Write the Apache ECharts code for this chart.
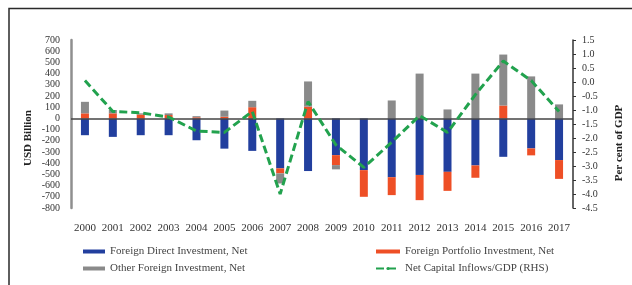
<!DOCTYPE html>
<html>
<head>
<meta charset="utf-8">
<script src="https://cdn.jsdelivr.net/npm/echarts@6/dist/echarts.min.js"></script>
<style>
	html, body { margin: 0; padding: 0; background: #fff; }
	#chart { width: 632px; height: 285px; }
</style>
</head>
<body>
<div id="chart"></div>
<script>
// capital flows, USD bn (bars) and net inflows as % of GDP (line)
var years = ['2000', '2001', '2002', '2003', '2004', '2005', '2006', '2007', '2008',
	'2009', '2010', '2011', '2012', '2013', '2014', '2015', '2016', '2017']
var fdi = [-150, -165, -150, -150, -195, -270, -290, -446, -470, -328, -462, -525, -505, -477, -420, -343, -268, -372]
var fpi = [45, 45, 35, 30, 10, 15, 100, -45, 105, -89, -238, -160, -225, -170, -110, 115, -62, -168]
var other = [103, 30, 10, 15, 10, 55, 57, -90, 225, -38, 0, 160, 400, 80, 400, 455, 375, 125]
var inflowsGdp = [0.05, -1.05, -1.1, -1.25, -1.75, -1.8, -1.05, -4.0, -0.7, -2.25, -3.05, -2.15, -1.2, -1.8, -0.45, 0.75, 0.05, -1.05]

var textFont = 'Liberation Serif'
var chart = echarts.init(document.getElementById('chart'))

chart.setOption({
	backgroundColor: '#fff',
	textStyle: { fontFamily: textFont },
	graphic: [
		{
			type: 'rect',
			shape: { x: 9, y: 8.5, width: 650, height: 300 },
			style: { fill: 'none', stroke: '#2a2a2a', lineWidth: 1.5 }
		},
		{
			type: 'text',
			x: 28, y: 138, rotation: Math.PI / 2,
			style: { text: 'USD Billion', font: 'bold 11px "Liberation Serif"', fill: '#222', align: 'center', verticalAlign: 'middle' }
		},
		{
			type: 'text',
			x: 619, y: 143, rotation: Math.PI / 2,
			style: { text: 'Per cent of GDP', font: 'bold 11px "Liberation Serif"', fill: '#222', align: 'center', verticalAlign: 'middle' }
		}
	],
	legend: [
		{
			left: 78, top: 241, orient: 'vertical', itemGap: 6,
			itemWidth: 22, itemHeight: 4,
			textStyle: { fontFamily: textFont, fontSize: 11, color: '#444' },
			data: [
				{ name: 'Foreign Direct Investment, Net', icon: 'rect' },
				{ name: 'Other Foreign Investment, Net', icon: 'rect' }
			]
		},
		{
			left: 370, top: 241, orient: 'vertical', itemGap: 6,
			itemWidth: 24, itemHeight: 4,
			textStyle: { fontFamily: textFont, fontSize: 11, color: '#444' },
			data: [
				{ name: 'Foreign Portfolio Investment, Net', icon: 'rect' },
				{ name: 'Net Capital Inflows/GDP (RHS)' }
			]
		}
	],
	grid: {
		left: 71,
		right: 59,
		top: 40,
		bottom: 77
	},
	xAxis: {
		type: 'category',
		data: years,
		axisLine: { show: false },
		axisTick: { show: false },
		axisLabel: { color: '#333', fontSize: 11, margin: 15, interval: 0 }
	},
	yAxis: [
		{
			type: 'value',
			min: -800,
			max: 700,
			interval: 100,
			axisLine: { show: true, lineStyle: { color: '#8f8f8f', width: 2.5 } },
			axisTick: { show: false },
			splitLine: { show: false },
			axisLabel: { color: '#333', fontSize: 10, margin: 11 }
		},
		{
			type: 'value',
			min: -4.5,
			max: 1.5,
			interval: 0.5,
			position: 'right',
			axisLine: { show: true, lineStyle: { color: '#333', width: 1.5 } },
			axisTick: { show: true, length: 3, lineStyle: { color: '#333' } },
			splitLine: { show: false },
			axisLabel: {
				color: '#333', fontSize: 10, margin: 9,
				formatter: function (v) { return v.toFixed(1) }
			}
		}
	],
	series: [
		{
			name: 'Foreign Direct Investment, Net',
			type: 'bar',
			stack: 'flows',
			barWidth: 8,
			itemStyle: { color: '#223f9e' },
			data: fdi,
			markLine: {
				silent: true,
				symbol: 'none',
				label: { show: false },
				lineStyle: { color: '#444', width: 1.5, type: 'solid' },
				data: [{ yAxis: 0 }]
			}
		},
		{
			name: 'Foreign Portfolio Investment, Net',
			type: 'bar',
			stack: 'flows',
			barWidth: 8,
			itemStyle: { color: '#ee4f26' },
			data: fpi
		},
		{
			name: 'Other Foreign Investment, Net',
			type: 'bar',
			stack: 'flows',
			barWidth: 8,
			itemStyle: { color: '#8a8a8a' },
			data: other
		},
		{
			name: 'Net Capital Inflows/GDP (RHS)',
			type: 'line',
			yAxisIndex: 1,
			symbol: 'none',
			z: 5,
			lineStyle: { color: '#22a24e', width: 3, type: [8, 4] },
			itemStyle: { color: '#22a24e' },
			data: inflowsGdp
		}
	]
})
</script>
</body>
</html>
